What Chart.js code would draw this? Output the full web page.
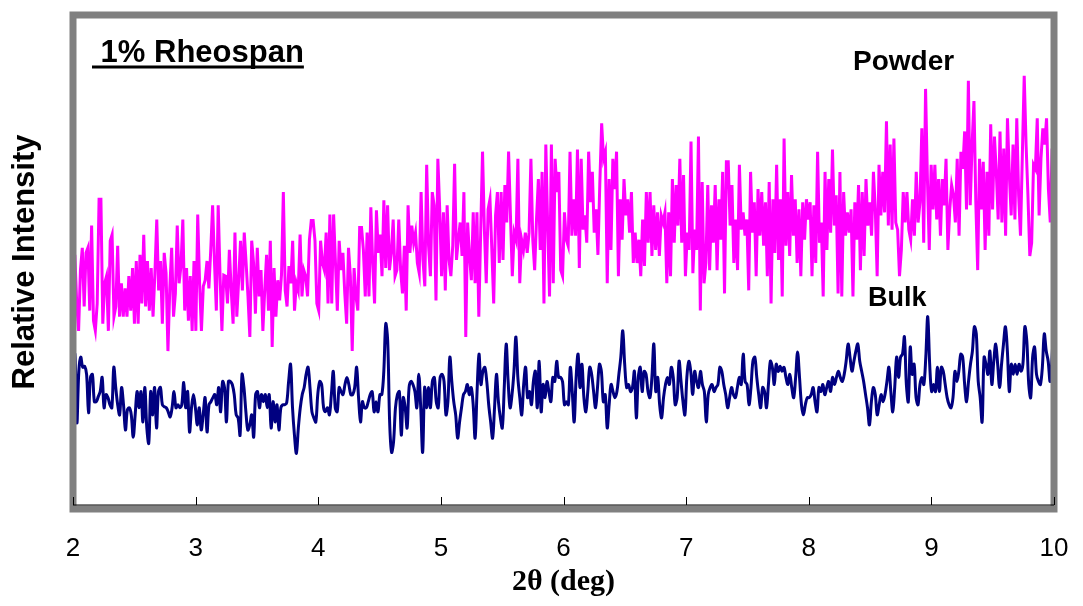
<!DOCTYPE html>
<html>
<head>
<meta charset="utf-8">
<script src="https://cdn.jsdelivr.net/npm/chart.js@4/dist/chart.umd.min.js"></script>
<style>
  html, body { margin: 0; padding: 0; background: #fff; }
  #wrap { width: 1083px; height: 606px; position: relative; }
</style>
</head>
<body>
<div id="wrap"><canvas id="xrd"></canvas></div>
<script>
/* 2-theta range and ticks */
var thetaStart = 2;
var thetaEnd = 10;
var xTicks = [2, 3, 4, 5, 6, 7, 8, 9, 10];

/* Powder trace, relative intensity (arbitrary units) */
var powder = [
  234,252,204,177,237,259,201,254,259,197,281,187,177,204,307,307,184,224,231,177,266,272,191,201,261,191,224,191,219,191,231,197,239,184,246,184,252,204,272,201,246,197,239,191,234,287,217,246,184,254,234,157,219,259,191,214,281,224,241,287,197,239,187,231,177,246,177,292,224,177,221,227,246,219,257,301,245,197,301,231,177,232,
  231,204,257,217,184,274,191,227,266,217,274,244,211,171,266,244,194,259,211,237,177,217,252,197,266,161,239,191,227,207,232,314,217,201,241,224,266,197,224,217,272,211,237,231,211,267,286,286,266,204,197,266,244,237,274,204,292,204,292,244,197,266,237,254,214,184,259,231,157,239,211,197,279,279,257,211,274,211,299,244,204,296,254,272,231,306,239,301,237,254,287,231,
  237,287,237,214,261,197,301,254,281,264,274,244,234,314,247,221,341,261,231,314,301,207,347,297,231,294,217,301,247,231,261,342,247,267,284,251,314,171,284,251,227,294,224,294,191,274,354,277,224,297,307,257,204,291,314,244,314,247,321,284,354,291,231,274,267,347,224,267,257,274,254,274,347,267,237,287,327,257,334,204,361,281,211,361,224,347,314,334,237,231,294,267,
  261,354,271,307,271,356,239,347,277,291,264,354,304,334,274,297,252,322,382,347,354,224,327,257,347,317,354,231,307,267,327,291,307,274,314,244,274,244,267,231,287,241,314,264,314,251,301,257,294,251,291,284,294,224,294,231,327,264,321,281,347,264,331,231,274,257,364,234,277,257,369,197,324,224,244,321,237,301,264,321,237,307,267,334,214,344,
  344,281,321,244,287,237,341,277,294,271,287,217,334,274,304,231,317,271,314,261,304,231,324,204,307,254,341,247,307,211,367,261,314,251,331,271,307,244,297,231,304,267,307,287,304,231,301,244,354,264,284,211,334,257,327,274,356,281,311,214,334,211,314,271,294,274,297,211,304,267,321,237,314,251,327,281,304,271,334,297,231,341,291,334,294,384,281,361,277,367,
  284,277,231,257,314,284,314,277,267,307,271,334,284,304,377,264,416,327,257,341,297,341,287,327,271,327,301,347,257,297,321,311,284,347,271,354,337,374,297,424,301,361,404,304,237,347,297,344,257,334,271,381,297,369,334,287,374,284,357,271,387,331,291,361,287,387,311,271,351,429,361,311,251,264,341,337,387,291,347,377,361,387,317,284,357,334
];

/* Bulk trace */
var bulk = [
  117,154,86,137,151,141,142,134,96,131,134,107,107,112,117,131,101,114,111,104,101,141,121,104,94,121,104,79,99,101,94,72,94,117,101,117,87,121,81,66,117,94,121,81,117,121,104,102,101,97,92,101,117,101,104,101,104,126,101,117,77,101,114,101,84,101,79,94,111,77,104,107,111,114,104,121,97,127,121,87,127,
  127,124,114,94,91,74,134,121,97,79,84,94,72,114,117,101,114,107,114,101,114,81,107,87,104,79,101,104,104,106,127,144,101,74,56,81,101,114,121,134,141,121,97,91,87,114,127,124,101,97,101,94,114,137,101,97,121,117,114,124,131,124,114,114,121,141,111,87,107,101,101,107,114,117,97,107,97,114,114,137,184,167,87,57,67,101,114,117,74,111,
  101,81,121,127,124,117,101,134,101,57,121,101,121,101,127,131,107,101,131,134,127,94,107,151,127,107,94,71,87,101,114,117,124,114,121,104,71,117,154,124,137,141,127,104,87,71,101,134,107,91,81,121,164,127,101,114,137,171,131,111,94,124,141,111,117,104,127,137,101,147,97,124,111,127,117,107,131,127,147,131,131,127,104,107,
  104,141,117,87,131,154,121,144,111,97,117,141,134,117,101,121,144,137,107,114,81,104,124,117,111,117,134,151,177,144,121,124,117,121,137,91,131,141,117,137,134,117,111,131,164,117,131,104,91,111,124,131,124,141,131,104,111,147,127,107,94,131,147,137,114,137,127,121,137,124,117,87,114,121,124,117,121,124,141,137,124,114,101,111,121,
  114,111,121,131,124,154,127,124,104,121,147,151,131,114,101,121,117,101,124,147,141,124,144,137,142,137,141,131,124,134,121,111,131,156,131,104,94,104,111,111,114,121,107,97,121,117,124,114,121,127,117,131,124,131,137,131,127,134,147,164,151,137,147,157,164,147,137,127,114,101,84,107,121,114,94,104,114,107,114,127,141,117,97,121,151,
  131,151,154,171,124,107,161,134,144,111,104,124,131,124,151,191,144,117,124,117,141,117,141,137,124,111,104,101,111,137,127,137,154,151,124,107,127,144,157,181,174,127,111,87,151,144,134,157,124,147,164,144,121,144,164,181,157,117,144,134,144,134,144,137,144,181,167,124,111,151,161,134,127,124,141,174,157,147,127,151,194
];

/* spread the readings evenly over the 2-theta range */
function toPoints(vals) {
    var step = (thetaEnd - thetaStart) / (vals.length - 1);
    return vals.map(function (v, i) { return {x: thetaStart + i * step, y: v}; });
}

/* gray frame, inner ticks and the labels inside the plot */
var framePlugin = {
    id: 'frame',
    afterDatasetsDraw: function (chart) {
        var ctx = chart.ctx;
        var a = chart.chartArea;
        var xs = chart.scales.x;
        ctx.save();
        ctx.strokeStyle = '#808080';
        ctx.lineWidth = 7;
        ctx.strokeRect(a.left, a.top, a.right - a.left, a.bottom - a.top);

        ctx.strokeStyle = '#000';
        ctx.lineWidth = 1;
        ctx.beginPath();
        ctx.moveTo(a.left, a.bottom - 4);
        ctx.lineTo(a.right, a.bottom - 4);
        xTicks.forEach(function (t) {
            var px = Math.round(xs.getPixelForValue(t)) + 0.5;
            ctx.moveTo(px, a.bottom - 4);
            ctx.lineTo(px, a.bottom - 12);
        });
        ctx.stroke();

        ctx.fillStyle = '#000';
        ctx.textBaseline = 'alphabetic';
        ctx.textAlign = 'left';
        ctx.font = 'bold 31px "Liberation Sans", Arial, sans-serif';
        var title = ' 1% Rheospan';
        ctx.fillText(title, 92, 62);
        var w = ctx.measureText(title).width;
        ctx.lineWidth = 3;
        ctx.beginPath();
        ctx.moveTo(92, 67);
        ctx.lineTo(92 + w, 67);
        ctx.stroke();

        ctx.font = 'bold 28px "Liberation Sans", Arial, sans-serif';
        ctx.fillText('Powder', 853, 70);
        ctx.font = 'bold 27px "Liberation Sans", Arial, sans-serif';
        ctx.fillText('Bulk', 868, 306);
        ctx.restore();
    }
};

var chart = new Chart(document.getElementById('xrd'), {
    type: 'line',
    data: {
        datasets: [{
            label: 'Powder',
            data: toPoints(powder),
            borderColor: '#FF00FF',
            borderWidth: 3,
            pointRadius: 0,
            tension: 0,
            fill: false
        }, {
            label: 'Bulk',
            data: toPoints(bulk),
            borderColor: '#000080',
            borderWidth: 3,
            pointRadius: 0,
            tension: 0.35,
            fill: false
        }]
    },
    options: {
        responsive: true,
        maintainAspectRatio: false,
        animation: false,
        devicePixelRatio: 1,
        layout: {padding: {left: 0, right: 29, top: 15, bottom: 0}},
        plugins: {
            legend: {display: false},
            tooltip: {enabled: false}
        },
        scales: {
            x: {
                type: 'linear',
                min: thetaStart,
                max: thetaEnd,
                afterFit: function (s) { s.height = 97; },
                afterBuildTicks: function (s) { s.ticks = xTicks.map(function (v) { return {value: v}; }); },
                grid: {display: false, drawTicks: true, tickLength: 24},
                border: {display: false},
                ticks: {
                    color: '#000',
                    padding: 0,
                    maxRotation: 0,
                    font: {family: '"Liberation Sans", Arial, sans-serif', size: 26}
                },
                title: {
                    display: true,
                    text: '2θ (deg)',
                    color: '#000',
                    padding: {top: 0, bottom: 6},
                    font: {family: '"Liberation Serif", "Times New Roman", serif', size: 30, weight: 'bold'}
                }
            },
            y: {
                min: 1,
                max: 489,
                afterFit: function (s) { s.width = 73; },
                grid: {display: false, drawTicks: false},
                border: {display: false},
                ticks: {display: false},
                title: {
                    display: true,
                    text: 'Relative Intensity',
                    color: '#000',
                    padding: {top: 7, bottom: 0},
                    font: {family: '"Liberation Sans", Arial, sans-serif', size: 31, weight: 'bold'}
                }
            }
        }
    },
    plugins: [framePlugin]
});
</script>
</body>
</html>
